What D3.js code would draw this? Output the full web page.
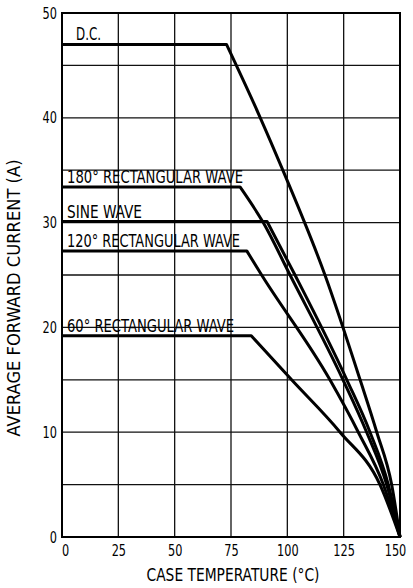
<!DOCTYPE html>
<html lang="en">
<head>
    <title>Average Forward Current vs Case Temperature</title>
    <script src="https://d3js.org/d3.v7.min.js" charset="utf-8"></script>
    <style type="text/css">
        body
        {
            margin: 0;
            background-color: white;
        }
        svg
        {
            display: block;
            background-color: white;
        }
        text
        {
            font-family: "Liberation Sans Narrow", "DejaVu Sans Condensed", "Liberation Sans", sans-serif;
            fill: #000;
        }
    </style>
</head>
<body>
    <div id="chart_div"></div>
    <script>
    "use strict";

    // x ticks (case temperature, deg C) and y ticks (current, A)
    var x_ticks = [0, 25, 50, 75, 100, 125, 150];
    var y_ticks = [0, 10, 20, 30, 40, 50];
    var y_grid = [0, 5, 10, 15, 20, 25, 30, 35, 40, 45, 50];

    var series_names = ["D.C.", "180\u00B0 RECTANGULAR WAVE", "SINE WAVE", "120\u00B0 RECTANGULAR WAVE", "60\u00B0 RECTANGULAR WAVE"];

    // temperature / current pairs
    var dc_temp = [0, 73, 88, 98, 116.7, 132.3, 139.7, 146.3, 150];
    var dc_amps = [47, 47, 40, 35, 25, 15, 10, 5, 0];

    var rect180_temp = [0, 79, 89.3, 101.2, 124.7, 135.2, 144.1, 150];
    var rect180_amps = [33.4, 33.4, 30, 25, 15, 10, 5, 0];

    var sine_temp = [0, 91, 103.4, 126.4, 136.7, 144.8, 150];
    var sine_amps = [30.1, 30.1, 25, 15, 10, 5, 0];

    var rect120_temp = [0, 82, 88.6, 118.9, 131.5, 142.6, 150];
    var rect120_amps = [27.3, 27.3, 25, 15, 10, 5, 0];

    var rect60_temp = [0, 84, 101.9, 123.4, 141.1, 150];
    var rect60_amps = [19.2, 19.2, 15, 10, 5, 0];

    var svg_width = 413;
    var svg_height = 588;
    var margin = {top: 13, right: 13, bottom: 51, left: 62};
    var chart_width = svg_width - margin.left - margin.right;
    var chart_height = svg_height - margin.top - margin.bottom;

    var series = [
        {name: series_names[0], temp: dc_temp, amps: dc_amps},
        {name: series_names[1], temp: rect180_temp, amps: rect180_amps},
        {name: series_names[2], temp: sine_temp, amps: sine_amps},
        {name: series_names[3], temp: rect120_temp, amps: rect120_amps},
        {name: series_names[4], temp: rect60_temp, amps: rect60_amps}
    ];

    var xscale = d3.scaleLinear()
        .domain([0, 150])
        .range([margin.left, margin.left + chart_width]);
    var yscale = d3.scaleLinear()
        .domain([0, 50])
        .range([margin.top + chart_height, margin.top]);

    var chart_svg = d3.select("#chart_div")
        .append("svg")
        .attr("width", svg_width)
        .attr("height", svg_height);

    // grid
    chart_svg.append("g")
        .attr("class", "grid")
        .selectAll("line.v")
        .data(x_ticks)
        .enter()
        .append("line")
        .attr("x1", (d) => xscale(d))
        .attr("x2", (d) => xscale(d))
        .attr("y1", yscale(0))
        .attr("y2", yscale(50))
        .attr("stroke", "#111")
        .attr("stroke-width", 1.3);
    chart_svg.append("g")
        .attr("class", "grid")
        .selectAll("line.h")
        .data(y_grid)
        .enter()
        .append("line")
        .attr("x1", xscale(0))
        .attr("x2", xscale(150))
        .attr("y1", (d) => yscale(d))
        .attr("y2", (d) => yscale(d))
        .attr("stroke", "#111")
        .attr("stroke-width", 1.3);

    // frame
    chart_svg.append("rect")
        .attr("x", xscale(0))
        .attr("y", yscale(50))
        .attr("width", xscale(150) - xscale(0))
        .attr("height", yscale(0) - yscale(50))
        .attr("fill", "none")
        .attr("stroke", "#000")
        .attr("stroke-width", 2);

    // axes, drawn only for their labels
    var xaxis = d3.axisBottom(xscale).tickValues(x_ticks).tickSize(0).tickPadding(8);
    var yaxis = d3.axisLeft(yscale).tickValues(y_ticks).tickSize(0).tickPadding(5);

    var gx = chart_svg.append("g")
        .attr("transform", "translate(0," + yscale(0) + ")")
        .call(xaxis);
    var gy = chart_svg.append("g")
        .attr("transform", "translate(" + xscale(0) + ",0)")
        .call(yaxis);
    [gx, gy].forEach(function(g)
    {
        g.select(".domain").remove();
        g.selectAll("text")
            .attr("font-size", 16)
            .attr("textLength", (d) => String(d).length * 7.2)
            .attr("lengthAdjust", "spacingAndGlyphs")
            .style("font-family", "\"Liberation Sans Narrow\", \"DejaVu Sans Condensed\", sans-serif");
    });
    gx.selectAll(".tick text").filter((d) => d === 0).attr("dx", 3);
    gx.selectAll(".tick text").filter((d) => d === 150).attr("dx", -5);

    chart_svg.append("text")
        .attr("x", 233)
        .attr("y", 581)
        .attr("text-anchor", "middle")
        .attr("font-size", 17)
        .attr("textLength", 173)
        .attr("lengthAdjust", "spacingAndGlyphs")
        .text("CASE TEMPERATURE (\u00B0C)");

    chart_svg.append("text")
        .attr("transform", "translate(20,298) rotate(-90)")
        .attr("text-anchor", "middle")
        .attr("font-size", 17)
        .attr("textLength", 277)
        .attr("lengthAdjust", "spacingAndGlyphs")
        .text("AVERAGE FORWARD CURRENT (A)");

    // curves: straight flat part, smooth fall-off after the knee
    var fall = d3.line()
        .x((d) => xscale(d[0]))
        .y((d) => yscale(d[1]))
        .curve(d3.curveMonotoneX);

    function curve_path(s)
    {
        var pts = d3.zip(s.temp, s.amps);
        return "M" + xscale(pts[0][0]) + "," + yscale(pts[0][1]) +
            fall(pts.slice(1)).replace(/^M/, "L");
    }

    chart_svg.append("g")
        .selectAll("path")
        .data(series)
        .enter()
        .append("path")
        .attr("d", curve_path)
        .attr("fill", "none")
        .attr("stroke", "#000")
        .attr("stroke-width", 3)
        .attr("stroke-linejoin", "round");

    // curve labels sit just above each flat part
    var label_widths = [25, 176, 75, 173, 167];
    chart_svg.append("g")
        .selectAll("text")
        .data(series)
        .enter()
        .append("text")
        .attr("x", (s, i) => i === 0 ? xscale(0) + 14 : xscale(0) + 5)
        .attr("y", (s) => yscale(s.amps[0]) - 4)
        .attr("font-size", 17)
        .attr("textLength", (s, i) => label_widths[i])
        .attr("lengthAdjust", "spacingAndGlyphs")
        .text((s) => s.name);
    </script>
</body>
</html>
